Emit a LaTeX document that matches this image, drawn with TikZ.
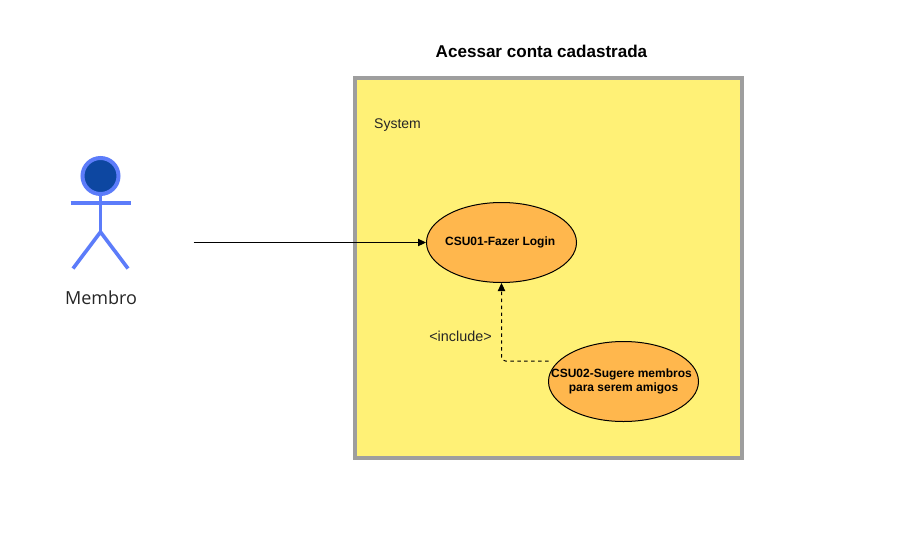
\documentclass[tikz,border=0pt]{standalone}
\usepackage{fontspec}
\setmainfont{Liberation Sans}
\newfontfamily\actorfont{Open Sans}
\usetikzlibrary{arrows.meta,shapes.geometric}
\definecolor{actorline}{HTML}{5C7CFA}
\definecolor{actorhead}{HTML}{0D47A1}
\definecolor{sysfill}{HTML}{FFF176}
\definecolor{sysline}{HTML}{9E9E9E}
\definecolor{ucfill}{HTML}{FFB74D}
\tikzset{
  usecase/.style={ellipse,draw=black,fill=ucfill,line width=0.75pt,minimum width=150*0.75pt,minimum height=80*0.75pt,inner sep=-40pt,align=center,font=\bfseries\fontsize{9}{10}\selectfont},
  limb/.style={draw=actorline,line width=2.7pt},
  link/.style={line width=0.75pt,-{Triangle[length=6pt,width=5.5pt]}},
  dashlink/.style={link,dash pattern=on 2.6pt off 2.6pt,rounded corners=3pt},
  plain/.style={inner sep=0pt,text=black!85}
}
\begin{document}
\begin{tikzpicture}[x=0.75pt,y=-0.75pt]
\useasboundingbox (0,0) rectangle (899,543);
\fill[white] (0,0) rectangle (899,543);
% system
\node[draw=sysline,fill=sysfill,line width=3pt,minimum width=387*0.75pt,minimum height=380*0.75pt,inner sep=0pt,outer sep=0pt] (system) at (548.5,268) {};
\node[inner sep=0pt,font=\bfseries\fontsize{12.8}{14}\selectfont] (title) at (541.5,51) {Acessar conta cadastrada};
\node[plain,font=\fontsize{10.5}{12}\selectfont] (systemlabel) at (397.5,125) {System};
% actor
\node[circle,draw=actorline,fill=actorhead,line width=3pt,minimum size=36*0.75pt,inner sep=0pt] (head) at (100.5,176) {};
\coordinate (neck) at (100.5,194);
\coordinate (hip) at (100.5,232);
\coordinate (armL) at (70.5,203);
\coordinate (armR) at (130.5,203);
\coordinate (footL) at (73,268.5);
\coordinate (footR) at (128,268.5);
\draw[limb] (neck) -- (hip);
\draw[limb] (armL) -- (armR);
\draw[limb] (footL) -- (hip) -- (footR);
\node[plain,font=\actorfont\fontsize{13.5}{16}\selectfont] (actorlabel) at (101,297.5) {Membro};
% use cases
\node[usecase] (uc1) at (501.5,242.5) {CSU01-Fazer Login\hspace*{2pt}};
\node[usecase] (uc2) at (623.5,381.5) {CSU02-Sugere membros\hspace*{3pt}\\para serem amigos};
% connectors
\coordinate (start) at (193.5,242.5);
\coordinate (dashstart) at (548.5,361);
\draw[link] (start) -- (uc1.west);
\draw[dashlink] (dashstart) -- (uc1.south |- dashstart) -- (uc1.south);
\node[plain,font=\fontsize{10.8}{12}\selectfont] (includelabel) at (460.5,336) {<include>};
\end{tikzpicture}
\end{document}
